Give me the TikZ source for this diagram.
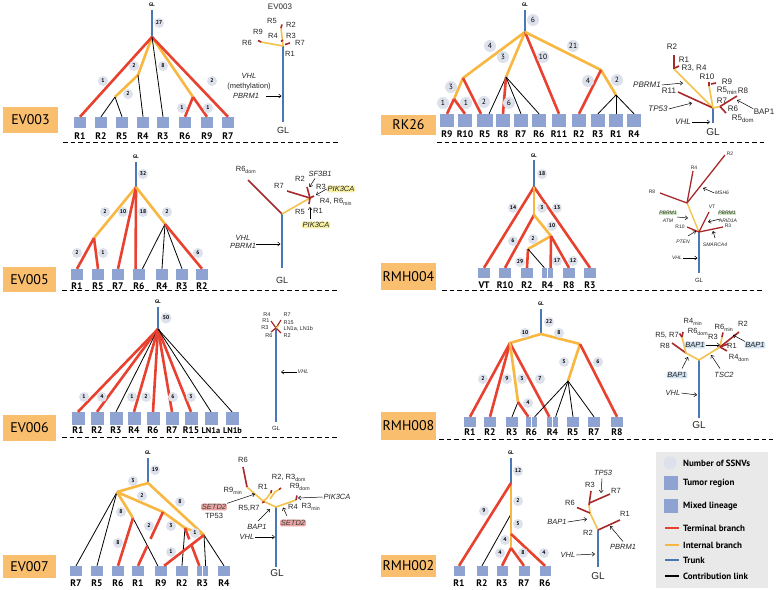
\documentclass[tikz,border=0pt]{standalone}
\usepackage{fontspec}
\setmainfont{Liberation Sans}
\newfontfamily\myr{PT Sans}
\usetikzlibrary{arrows.meta,calc}
\definecolor{tred}{HTML}{E8412F}
\definecolor{tyel}{HTML}{F7B740}
\definecolor{tblue}{HTML}{4A78B5}
\definecolor{bfill}{HTML}{8FA3D3}
\definecolor{cfill}{HTML}{DCE1EC}
\definecolor{ofill}{HTML}{F9BE6E}
\definecolor{pred}{HTML}{A8292B}
\definecolor{pyel}{HTML}{F2C24A}
\definecolor{hyel}{HTML}{F7F0A2}
\definecolor{hgreen}{HTML}{CDE8C0}
\definecolor{hblue}{HTML}{CFE0F0}
\definecolor{hred}{HTML}{E9A3A0}
\definecolor{lgrey}{HTML}{E9E9E9}
\newcommand{\mysb}[1]{\textsubscript{#1}}
\newcommand{\regbox}[6]{\node[reg,#6] (#1) at (#2,#3) {}; \node[rlab] (#1l) at (#2,#4) {#5};}
\newcommand{\mixbox}[7]{\node[reg,minimum width=#6pt,minimum height=#7pt] (#1L) at ({#2-#6/2-0.4},#3) {}; \node[reg,minimum width=#6pt,minimum height=#7pt] (#1R) at ({#2+#6/2+0.4},#3) {}; \node[rlab] (#1l) at (#2,#4) {#5};}
\tikzset{
 term/.style={tred,line width=2.6pt},
 intl/.style={tyel,line width=2.6pt},
 trk/.style={tblue,line width=2.6pt},
 ctb/.style={black,line width=0.8pt},
 cnt/.style={circle,fill=cfill,inner sep=0pt,minimum size=10pt,font=\myr\bfseries\fontsize{5.5}{6}\selectfont},
 cntb/.style={circle,fill=cfill,inner sep=0pt,minimum size=12pt,font=\myr\fontsize{7.5}{8}\selectfont},
 reg/.style={fill=bfill,inner sep=0pt,minimum width=12pt,minimum height=11pt},
 rlab/.style={font=\myr\bfseries\fontsize{9.5}{10}\selectfont,inner sep=0pt},
 panel/.style={fill=ofill,minimum width=55pt,inner sep=0pt,font=\myr\fontsize{14}{16}\selectfont},
 gl/.style={font=\myr\bfseries\fontsize{5}{6}\selectfont,inner sep=0pt},
 sep/.style={line width=0.8pt,dash pattern=on 4.5pt off 3pt},
 ptr/.style={tblue,line width=2pt},
 pb/.style={pred,line width=1.6pt},
 py/.style={pyel,line width=1.6pt},
 plab/.style={font=\fontsize{7.5}{8}\selectfont,inner sep=0.5pt,text=black!85},
 klab/.style={font=\fontsize{8}{8.5}\selectfont,inner sep=0.3pt,text=black!85},
 gene/.style={font=\itshape\fontsize{7.5}{8}\selectfont,inner sep=0.8pt,text=black!85},
 pgl/.style={font=\fontsize{10}{11}\selectfont,inner sep=0pt,text=black!85},
 arr/.style={-{Straight Barb[length=2.5pt,width=4pt]},line width=0.5pt},
 hl/.style={rounded corners=1.5pt},
 leg/.style={font=\myr\bfseries\fontsize{9}{10}\selectfont,anchor=west,inner sep=0pt},
 tiny/.style={font=\fontsize{5}{5.5}\selectfont,inner sep=0.5pt,text=black!85},
 tinyi/.style={font=\itshape\fontsize{5}{5.5}\selectfont,inner sep=0.5pt,text=black!85},
}
\begin{document}
\begin{tikzpicture}[x=1pt,y=-1pt,line join=round]
\useasboundingbox (0,0) rectangle (776,589);
\fill[white] (0,0) rectangle (776,589);

% ---------- separators ----------
\draw[sep] (63,142) -- (340,142);
\draw[sep] (62,290) -- (338,290);
\draw[sep] (62,437) -- (338,437);
\draw[sep] (437,142) -- (767,142);
\draw[sep] (442,290) -- (762,290);
\draw[sep] (439,439) -- (773,439);

% ---------- panel labels ----------
\node[panel,minimum height=26pt] (pA) at (30.5,120) {EV003};
\node[panel,minimum height=25pt,minimum width=53pt] (pC) at (29.5,279.5) {EV005};
\node[panel,minimum height=26pt,minimum width=53pt] (pE) at (29.5,428) {EV006};
\node[panel,minimum height=23pt,minimum width=53pt] (pG) at (29.5,566.5) {EV007};
\node[panel,minimum height=20pt] (pB) at (408.5,124.5) {RK26};
\node[panel,minimum height=27pt] (pD) at (408.5,276.5) {RMH004};
\node[panel,minimum height=28pt] (pF) at (408.5,426) {RMH008};
\node[panel,minimum height=22pt] (pH) at (408.5,566) {RMH002};

% =============== EV003 tree ===============
\node[gl] (aGL) at (152,5) {GL};
\coordinate (a0) at (152,10);
\coordinate (a1) at (152,37);
\coordinate (a2) at (138,75);
\coordinate (a3) at (115,97);
\coordinate (a4) at (193,97);
\regbox{aR1}{80}{122.5}{136}{R1}{}
\regbox{aR2}{101}{122.5}{136}{R2}{}
\regbox{aR5}{122}{122.5}{136}{R5}{}
\regbox{aR4}{143}{122.5}{136}{R4}{}
\regbox{aR3}{163}{122.5}{136}{R3}{}
\regbox{aR6}{185}{122.5}{136}{R6}{}
\regbox{aR9}{207}{122.5}{136}{R9}{}
\regbox{aR7}{228}{122.5}{136}{R7}{}
\draw[trk] (a0) -- (a1);
\draw[intl] (a1) -- (a2) -- (a3);
\draw[intl] (a1) -- (a4);
\draw[term] (a1) -- (aR1.north);
\draw[term] (a1) -- (aR7.north);
\draw[ctb] (a2) -- (aR4.north);
\draw[ctb] (a3) -- (aR2.north);
\draw[ctb] (a3) -- (aR5.north);
\draw[ctb] (a1) -- (aR3.north);
\draw[term] (a4) -- (aR6.north);
\draw[term] (a4) -- (aR9.north);
\node[cnt] at (159,23) {27};
\node[cnt] at (103,81) {1};
\node[cnt] at (134,66) {2};
\node[cnt] at (128,94) {2};
\node[cnt] at (163,66) {8};
\node[cnt] at (182,108) {1};
\node[cnt] at (208,108) {1};
\node[cnt] at (212,81) {2};

% =============== EV003 phylogeny ===============
\node[plab,font=\fontsize{8}{9}\selectfont] (bT) at (280,7) {EV003};
\coordinate (b0) at (283,122);
\coordinate (b1) at (283,46);
\coordinate (b2) at (281,28);
\coordinate (b3) at (261,42);
\draw[ptr] (b0) -- (b1);
\draw[py] (b1) -- (b2);
\draw[py] (b1) -- (b3);
\draw[pb] (b2) -- (282,24.5);
\draw[pb] (b3) -- (258,40.5);
\draw[pb] (285,44.5) -- (290,43);
\draw[pb] (281,41.5) -- (283,40);
\node[pgl,font=\fontsize{9}{10}\selectfont] (bGL) at (283,130) {GL};
\node[plab] at (272,21) {R5};
\node[plab] at (291,25) {R2};
\node[plab] at (258,32) {R9};
\node[plab] at (273,36) {R4};
\node[plab] at (291,36) {R3};
\node[plab] at (247,43) {R6};
\node[plab] at (300,43) {R7};
\node[plab] at (290,54) {R1};
\node[gene] (bV) at (249,76) {VHL};
\node[plab] (bM) at (249,86.5) {(methylation)};
\node[gene] (bP) at (246,96) {PBRM1};
\coordinate (bA) at (281.5,96);
\draw[arr] (266,96) -- (bA);

% =============== RK26 tree ===============
\node[gl] (cGL) at (525,5) {GL};
\coordinate (c0) at (525,10);
\coordinate (c1) at (525,32);
\coordinate (c2) at (463,78);
\coordinate (c3) at (454,99);
\coordinate (c4) at (506,77);
\coordinate (c5) at (601,70);
\coordinate (c6) at (616,95);
\regbox{cR9}{447}{120.5}{134}{R9}{minimum width=14pt,minimum height=13pt}
\regbox{cR10}{465}{120.5}{134}{R10}{minimum width=14pt,minimum height=13pt}
\mixbox{cR5}{485}{120.5}{134}{R5}{7.3}{13}
\regbox{cR8}{503}{120.5}{134}{R8}{minimum width=14pt,minimum height=13pt}
\regbox{cR7}{521}{120.5}{134}{R7}{minimum width=14pt,minimum height=13pt}
\regbox{cR6}{539}{120.5}{134}{R6}{minimum width=14pt,minimum height=13pt}
\regbox{cR11}{559}{120.5}{134}{R11}{minimum width=14pt,minimum height=13pt}
\regbox{cR2}{579}{120.5}{134}{R2}{minimum width=14pt,minimum height=13pt}
\regbox{cR3}{598}{120.5}{134}{R3}{minimum width=14pt,minimum height=13pt}
\regbox{cR1}{616}{120.5}{134}{R1}{minimum width=14pt,minimum height=13pt}
\regbox{cR4}{634}{120.5}{134}{R4}{minimum width=14pt,minimum height=13pt}
\draw[trk] (c0) -- (c1);
\draw[intl] (c1) -- (c2) -- (c3);
\draw[term] (c3) -- (cR9.north);
\draw[term] (c3) -- (cR10.north);
\draw[term] (c2) -- (cR5L.north);
\draw[intl] (c1) -- (c4);
\draw[ctb] (c4) -- (cR5R.north);
\draw[term] (c4) -- (cR8.north);
\draw[ctb] (c4) -- (cR7.north);
\draw[ctb] (c4) -- (cR6.north);
\draw[term] (c1) -- (cR11.north);
\draw[intl] (c1) -- (c5) -- (c6);
\draw[term] (c5) -- (cR2.north);
\draw[ctb] (c6) -- (cR3.north);
\draw[ctb] (c6) -- (cR1.north);
\draw[ctb] (c6) -- (cR4.north);
\node[cntb] at (533,20) {6};
\node[cntb] at (490,46) {4};
\node[cntb] at (451,87) {3};
\node[cntb] at (443,103) {1};
\node[cntb] at (466,103) {1};
\node[cntb] at (484,102) {2};
\node[cntb] at (503,57) {3};
\node[cntb] at (509,103) {6};
\node[cntb] at (543,57) {10};
\node[cntb] at (573,46) {21};
\node[cntb] at (588,81) {4};
\node[cntb] at (617,80) {2};

% =============== RK26 phylogeny ===============
\coordinate (n0) at (713,108);
\coordinate (nb) at (713,123);
\coordinate (n1) at (674,69);
\coordinate (n2) at (709,86);
\coordinate (n3) at (720,106.5);
\draw[ptr] (nb) -- (n0);
\draw[py] (n0) -- (n1);
\draw[pb] (n1) -- (674,55);
\draw[pb] (675,68) -- (679,66);
\draw[pb] (n0) -- (678,92);
\draw[py] (n0) -- (n2);
\draw[pb] (n2) -- (709,82);
\draw[pb] (711,84) -- (716,83);
\draw[py] (n0) -- (n3);
\draw[pb] (n3) -- (737,96);
\draw[pb] (n3) -- (726,113);
\node[pgl] (nGL) at (713,132) {GL};
\node[klab] at (672,47) {R2};
\node[klab] at (684,60) {R1};
\node[klab] at (694,68) {R3, R4};
\node[klab] at (707,76.5) {R10};
\node[klab] at (727,81.5) {R9};
\node[klab] at (727,91) {R5\mysb{min}};
\node[klab] at (743,91) {R8};
\node[klab] at (722,101) {R7};
\node[klab] at (733,108.5) {R6};
\node[klab] at (743,118.5) {R5\mysb{dom}};
\node[klab] at (669,91) {R11};
\node[gene,font=\itshape\fontsize{8}{9}\selectfont] (nP) at (647,85) {PBRM1};
\node[gene,font=\itshape\fontsize{8}{9}\selectfont] (nT) at (658,109) {TP53};
\node[gene,font=\itshape\fontsize{8}{9}\selectfont] (nV) at (683,122) {VHL};
\node[klab] (nB) at (764,112) {BAP1};
\draw[arr] (nP.east) -- (683,83);
\draw[arr] (nT.east) -- (692,103);
\draw[arr] (nV.east) -- (710,122);
\draw[arr] (nB.north west) -- (737,100);

% =============== EV005 tree ===============
\node[gl] (dGL) at (136,157) {GL};
\coordinate (d0) at (136,162);
\coordinate (d1) at (136,187);
\coordinate (d2) at (94,238);
\coordinate (d3) at (165,224);
\regbox{dR1}{77}{274.5}{286}{R1}{}
\regbox{dR5}{98}{274.5}{286}{R5}{}
\regbox{dR7}{118}{274.5}{286}{R7}{}
\mixbox{dR6}{139}{274.5}{286}{R6}{6}{11}
\regbox{dR4}{162}{274.5}{286}{R4}{}
\regbox{dR3}{182}{274.5}{286}{R3}{}
\regbox{dR2}{202}{274.5}{286}{R2}{}
\draw[trk] (d0) -- (d1);
\draw[intl] (d1) -- (d2);
\draw[term] (d2) -- (dR1.north);
\draw[term] (d2) -- (dR5.north);
\draw[term] (d1) -- (dR7.north);
\draw[term] (d1) -- (dR6L.north);
\draw[intl] (d1) -- (d3);
\draw[ctb] (d3) -- (dR6R.north);
\draw[ctb] (d3) -- (dR4.north);
\draw[ctb] (d3) -- (dR3.north);
\draw[term] (d3) -- (dR2.north);
\node[cnt] at (143,174) {32};
\node[cnt] at (105,212) {2};
\node[cnt] at (123,212) {10};
\node[cnt] at (143,212) {18};
\node[cnt] at (167,212) {2};
\node[cnt] at (77,253) {2};
\node[cnt] at (103,253) {1};
\node[cnt] at (198,253) {6};

% =============== EV005 phylogeny ===============
\coordinate (o0) at (282,214);
\coordinate (ob) at (282,268);
\coordinate (o1) at (310,198);
\draw[ptr] (ob) -- (o0);
\draw[pb] (o0) -- (248,180);
\draw[py] (o0) -- (o1);
\draw[pb] (o1) -- (287,191);
\draw[pb] (o1) -- (307,187);
\draw[pb] (o1) -- (309,204);
\draw[pb] (o1) -- (314,196);
\node[pgl,font=\fontsize{9}{10}\selectfont] (oGL) at (282,280) {GL};
\node[plab] at (246,170) {R6\mysb{dom}};
\node[plab] at (279,186) {R7};
\node[plab] at (300,179) {R2};
\node[plab] at (321,187) {R3};
\node[plab] at (336,202) {R4, R6\mysb{min}};
\node[plab] at (300,212) {R5};
\node[plab] at (318,211) {R1};
\node[gene] (oS) at (320,174) {SF3B1};
\node[gene,fill=hyel,hl] (oK1) at (341,189) {PIK3CA};
\node[gene,fill=hyel,hl] (oK2) at (316,225) {PIK3CA};
\node[gene] (oV) at (243,238) {VHL};
\node[gene] (oP) at (243,245.5) {PBRM1};
\draw[arr] (315,178.5) -- (309.5,187);
\draw[arr] (oK1.west) -- (316,195);
\draw[arr] (310,219) -- (310,207);
\draw[arr] (256,244) -- (280.5,244);

% =============== RMH004 tree ===============
\node[gl] (eGL) at (534,156) {GL};
\coordinate (e0) at (534,160);
\coordinate (e1) at (534,187);
\coordinate (e2) at (534,215);
\coordinate (e3) at (551,236);
\coordinate (e4) at (528,249);
\regbox{eVT}{484}{273}{285}{VT}{minimum height=10pt}
\regbox{eR10}{505}{273}{285}{R10}{minimum height=10pt}
\regbox{eR2}{527}{273}{285}{R2}{minimum height=10pt}
\mixbox{eR4}{547.5}{273}{285}{R4}{5.5}{10}
\regbox{eR8}{569}{273}{285}{R8}{minimum height=10pt}
\regbox{eR3}{590}{273}{285}{R3}{minimum height=10pt}
\draw[trk] (e0) -- (e1);
\draw[term] (e1) -- (eVT.north);
\draw[term] (e1) -- (eR3.north);
\draw[intl] (e1) -- (e2);
\draw[term] (e2) -- (eR10.north);
\draw[intl] (e2) -- (e3) -- (e4);
\draw[term] (e4) -- (eR2.north);
\draw[ctb] (e4) -- (eR4L.north);
\draw[term] (e3) -- (eR4R.north);
\draw[term] (e3) -- (eR8.north);
\node[cnt] at (542,174) {18};
\node[cnt] at (513,208) {14};
\node[cnt] at (542,208) {3};
\node[cnt] at (557,208) {13};
\node[cnt] at (552,226) {10};
\node[cnt] at (513,241) {6};
\node[cnt] at (533,239) {2};
\node[cnt] at (520,262) {29};
\node[cnt] at (557,261) {17};
\node[cnt] at (573,261) {12};

% =============== RMH004 phylogeny ===============
\coordinate (r0) at (699,232);
\coordinate (rb) at (699,273);
\coordinate (r1) at (687,203);
\draw[ptr,line width=1.8pt] (rb) -- (r0);
\draw[py,line width=1.3pt] (r0) -- (r1);
\draw[pb,line width=1.3pt] (r1) -- (660,193);
\draw[pb,line width=1.3pt] (r1) -- (693,171);
\draw[pb,line width=1.3pt] (r1) -- (725,155);
\draw[pb,line width=1.3pt] (r0) -- (709,212);
\draw[pb,line width=1.3pt] (r0) -- (723,227);
\draw[pb,line width=1.3pt] (r0) -- (687,227);
\node[tiny,font=\fontsize{6}{6.5}\selectfont] (rGL) at (699,280) {GL};
\node[tiny] at (652,192) {R8};
\node[tiny] at (694,168) {R4};
\node[tiny] at (730,154) {R2};
\node[tiny] at (712,207) {VT};
\node[tiny] at (728,226) {R3};
\node[tiny] at (680,227) {R10};
\node[tinyi] (rM) at (722,193) {MSH6};
\node[tinyi,fill=hgreen] (rP1) at (668,213) {PBRM1};
\node[tinyi] at (668,221) {ATM};
\node[tinyi,fill=hgreen] (rP2) at (727,213) {PBRM1};
\node[tinyi] at (728,221) {ARID1A};
\node[tinyi] at (683,242) {PTEN};
\node[tinyi] at (715,245) {SMARCA4};
\node[tinyi] (rV) at (677,258) {VHL};
\draw[arr] (rM.west) -- (703,188);
\draw[arr] (677,217) -- (688,218);
\draw[arr] (720,219) -- (708,222);
\draw[arr] (688,236) -- (696,231);
\draw[arr] (715,238) -- (713,231);
\draw[arr] (rV.east) -- (697.5,258);

% =============== EV006 tree ===============
\node[gl] (fGL) at (158,302) {GL};
\coordinate (f0) at (158,307);
\coordinate (f1) at (158,329);
\regbox{fR1}{78}{418.5}{430.5}{R1}{minimum width=13pt,minimum height=13pt}
\regbox{fR2}{97}{418.5}{430.5}{R2}{minimum width=13pt,minimum height=13pt}
\regbox{fR3}{116}{418.5}{430.5}{R3}{minimum width=13pt,minimum height=13pt}
\regbox{fR4}{134}{418.5}{430.5}{R4}{minimum width=13pt,minimum height=13pt}
\regbox{fR6}{153}{418.5}{430.5}{R6}{minimum width=13pt,minimum height=13pt}
\regbox{fR7}{172}{418.5}{430.5}{R7}{minimum width=13pt,minimum height=13pt}
\regbox{fR15}{191}{418.5}{430.5}{R15}{minimum width=13pt,minimum height=13pt}
\node[reg,minimum width=13pt,minimum height=13pt] (fLa) at (211,418.5) {};
\node[rlab,font=\myr\bfseries\fontsize{8.3}{9}\selectfont] (fLal) at (211,430.5) {LN1a};
\node[reg,minimum width=13pt,minimum height=13pt] (fLb) at (232,418.5) {};
\node[rlab,font=\myr\bfseries\fontsize{8.3}{9}\selectfont] (fLbl) at (232.5,430.5) {LN1b};
\draw[trk] (f0) -- (f1);
\draw[term] (f1) -- (fR1.north);
\draw[term] (f1) -- (fR2.north);
\draw[ctb] (f1) -- (fR3.north);
\draw[term] (f1) -- (fR4.north);
\draw[term] (f1) -- (fR6.north);
\draw[term] (f1) -- (fR7.north);
\draw[term] (f1) -- (fR15.north);
\draw[ctb] (f1) -- (fLa.north);
\draw[ctb] (f1) -- (fLb.north);
\node[cnt,minimum size=11pt] at (166,318) {50};
\node[cnt] at (84,397) {1};
\node[cnt] at (102,397) {4};
\node[cnt] at (132,397) {1};
\node[cnt] at (146,397) {2};
\node[cnt] at (173,397) {6};
\node[cnt] at (191,397) {3};

% =============== EV006 phylogeny ===============
\coordinate (s0) at (276,328);
\coordinate (sb) at (276,422);
\draw[ptr,line width=1.8pt] (sb) -- (s0);
\draw[pb,line width=1.2pt] (s0) -- (271,321);
\draw[pb,line width=1.2pt] (s0) -- (281,320);
\draw[pb,line width=1.2pt] (s0) -- (271,332);
\draw[pb,line width=1.2pt] (s0) -- (281,333);
\draw[py,line width=1.2pt] (s0) -- (279,325.5);
\node[tiny,font=\fontsize{6}{6.5}\selectfont] (sGL) at (276,428) {GL};
\node[tiny,font=\fontsize{5.5}{6}\selectfont] at (267,315) {R4};
\node[tiny,font=\fontsize{5.5}{6}\selectfont,anchor=west] at (283,315) {R7};
\node[tiny,font=\fontsize{5.5}{6}\selectfont] at (266,321) {R1};
\node[tiny,font=\fontsize{5.5}{6}\selectfont,anchor=west] at (283,322.5) {R15};
\node[tiny,font=\fontsize{5.5}{6}\selectfont] at (265,328) {R3};
\node[tiny,font=\fontsize{5.5}{6}\selectfont,anchor=west] at (283,328.5) {LN1a, LN1b};
\node[tiny,font=\fontsize{5.5}{6}\selectfont] at (269,336) {R6};
\node[tiny,font=\fontsize{5.5}{6}\selectfont,anchor=west] at (283,336) {R2};
\node[tinyi,font=\itshape\fontsize{5.5}{6}\selectfont,anchor=west] (sV) at (297,372) {VHL};
\draw[arr] (sV.west) -- (281,372);

% =============== RMH008 tree ===============
\node[gl] (gGL) at (541,304) {GL};
\coordinate (g0) at (541,309);
\coordinate (g1) at (541,334);
\coordinate (g2) at (510,343);
\coordinate (g3) at (580,344);
\coordinate (g4) at (518,402);
\coordinate (g5) at (568,381);
\regbox{gR1}{470}{422}{432}{R1}{minimum height=10pt}
\regbox{gR2}{490}{422}{432}{R2}{minimum height=10pt}
\regbox{gR3}{512}{422}{432}{R3}{minimum height=10pt}
\mixbox{gR6}{531.5}{422}{432}{R6}{5.5}{10}
\mixbox{gR4}{552.5}{422}{432}{R4}{5.5}{10}
\regbox{gR5}{573}{422}{432}{R5}{minimum height=10pt}
\regbox{gR7}{594}{422}{432}{R7}{minimum height=10pt}
\regbox{gR8}{617}{422}{432}{R8}{minimum height=10pt}
\draw[trk] (g0) -- (g1);
\draw[intl] (g2) -- (g1) -- (g3);
\draw[term] (g2) -- (gR1.north);
\draw[term] (g2) -- (gR2.north);
\draw[term] (g2) -- (gR4L.north);
\draw[intl] (g2) -- (g4);
\draw[ctb] (g4) -- (gR3.north);
\draw[term] (g4) -- (gR6L.north);
\draw[intl] (g3) -- (g5);
\draw[term] (g3) -- (gR8.north);
\draw[ctb] (g5) -- (gR6R.north);
\draw[ctb] (g5) -- (gR4R.north);
\draw[ctb] (g5) -- (gR5.north);
\draw[ctb] (g5) -- (gR7.north);
\node[cnt] at (549,322) {22};
\node[cnt] at (525,333) {10};
\node[cnt] at (559,333) {8};
\node[cnt] at (483,379) {2};
\node[cnt] at (507,379) {9};
\node[cnt] at (522,379) {3};
\node[cnt] at (540,379) {7};
\node[cnt] at (528,403) {4};
\node[cnt] at (564,362) {5};
\node[cnt] at (598,362) {6};

% =============== RMH008 phylogeny ===============
\coordinate (q0) at (699,360);
\coordinate (qb) at (699,418);
\coordinate (q1) at (686,353);
\coordinate (q2) at (720,347);
\coordinate (q3) at (682,337);
\coordinate (q4) at (722,337);
\draw[ptr] (qb) -- (q0);
\draw[py] (q1) -- (q0) -- (q2);
\draw[pb] (q1) -- (672,343);
\draw[py] (q1) -- (q3);
\draw[pb] (q3) -- (683,332);
\draw[pb] (q3) -- (679.5,333.5);
\draw[py] (q2) -- (q4);
\draw[pb] (q4) -- (723,332.5);
\draw[pb] (q2) -- (739,332);
\draw[pb] (q2) -- (728,344);
\draw[pb] (q2) -- (727,351);
\node[pgl] (qGL) at (699,425) {GL};
\node[plab] at (693,322) {R4\mysb{min}};
\node[plab] at (698,332) {R6\mysb{dom}};
\node[plab] at (667,335) {R5, R7};
\node[plab] at (665,346) {R8};
\node[plab] at (724,328) {R6\mysb{min}};
\node[plab] at (743,324) {R2};
\node[plab] at (713,337) {R3};
\node[plab] at (732,346) {R1};
\node[plab] at (739,358) {R4\mysb{dom}};
\node[gene,fill=hblue,hl] (qB1) at (695,345) {BAP1};
\node[gene,fill=hblue,hl] (qB2) at (755,345) {BAP1};
\node[gene,fill=hblue,hl] (qB3) at (677,375) {BAP1};
\node[gene] (qT) at (724,375) {TSC2};
\node[gene] (qV) at (673,393) {VHL};
\draw[arr] (qB1.east) -- (720,345);
\draw[arr] (745,341.5) -- (733,335);
\draw[arr] (682,368.5) -- (688,357);
\draw[arr] (720,368.5) -- (711,355);
\draw[arr] (qV.east) -- (697,395);

% =============== EV007 tree ===============
\node[gl] (hGL) at (148,453) {GL};
\coordinate (h0) at (148,458);
\coordinate (h1) at (148,483);
\coordinate (h2) at (117,492);
\coordinate (h3) at (204,535);
\coordinate (h4) at (133,518);
\coordinate (h5) at (163,512);
\coordinate (h6) at (185,528);
\regbox{hR7}{76}{571}{583}{R7}{minimum height=10pt}
\regbox{hR5}{97}{571}{583}{R5}{minimum height=10pt}
\regbox{hR6}{118}{571}{583}{R6}{minimum height=10pt}
\regbox{hR1}{138}{571}{583}{R1}{minimum height=10pt}
\mixbox{hR9}{161}{571}{583}{R9}{5.5}{10}
\regbox{hR2}{182}{571}{583}{R2}{minimum height=10pt}
\mixbox{hR3}{202.5}{571}{583}{R3}{5.5}{10}
\regbox{hR4}{224}{571}{583}{R4}{minimum height=10pt}
\draw[trk] (h0) -- (h1);
\draw[ctb] (h2) -- (hR7.north);
\draw[ctb] (h2) -- (hR5.north);
\draw[ctb] (h4) -- (hR9L.north);
\draw[ctb] (h6) -- (hR2.north);
\draw[ctb] (h3) -- (hR3R.north);
\draw[ctb] (h3) -- (hR4.north);
\draw[intl] (h2) -- (h1) -- (h3);
\draw[intl] (h2) -- (h4);
\draw[intl] (h2) -- (h5) -- (h6) -- (h3);
\draw[term] (h4) -- (hR6.north);
\draw[term] (h5) -- ($(h5)!0.5!(hR1.north)$);
\draw[term] ($(h5)!0.63!(hR1.north)$) -- (hR1.north);
\draw[term] (h3) -- (hR9R.north);
\draw[term] (h6) -- ($(h6)!0.3!(hR3L.north)$);
\draw[term] ($(h6)!0.46!(hR3L.north)$) -- (hR3L.north);
\node[cnt] at (155,470) {19};
\node[cnt] at (133,481) {3};
\node[cnt] at (180,502) {8};
\node[cnt] at (142,496) {2};
\node[cnt] at (121,512) {8};
\node[cnt] at (118,543) {8};
\node[cnt] at (149,526) {2};
\node[cnt] at (171,526) {3};
\node[cnt] at (195,533) {1};
\node[cnt] at (171,552) {1};

% =============== EV007 phylogeny ===============
\coordinate (k0) at (276,507);
\coordinate (kb) at (276,567);
\coordinate (k1) at (263,501);
\coordinate (k2) at (247,487);
\coordinate (k3) at (296,500);
\coordinate (k4) at (270,499);
\draw[ptr] (kb) -- (k0);
\draw[py] (k0) -- (k1) -- (k2);
\draw[pb] (k2) -- (243,467);
\draw[py] (k1) -- (266,499) -- (271,492.5);
\draw[pb] (271,493) -- (271.5,490);
\draw[pb] (262,502.5) -- (264.5,502);
\draw[py] (k0) -- (k3);
\draw[pb] (k3) -- (297,495.5);
\draw[py] (k4) -- (275,492) -- (279,489.5);
\draw[pb] (279,489.5) -- (281,488);
\node[pgl] (kGL) at (277,573) {GL};
\node[plab] at (243,460) {R6};
\node[plab] at (263,487) {R1};
\node[plab] at (233,491) {R9\mysb{min}};
\node[plab] at (289,478) {R2, R3\mysb{dom}};
\node[plab] at (300,487) {R9\mysb{dom}};
\node[plab] at (293,507) {R4};
\node[plab] at (311,507) {R3\mysb{min}};
\node[plab] at (249,508) {R5,R7};
\node[gene,fill=hred,hl,text=black!75] (kS1) at (214,507) {SETD2};
\node[plab] at (214,515.5) {TP53};
\node[gene] (kP) at (337,497) {PIK3CA};
\node[gene] (kB) at (257,527) {BAP1};
\node[gene,fill=hred,hl,text=black!75] (kS2) at (293,523) {SETD2};
\node[gene] (kV) at (247,537) {VHL};
\draw[arr] (kS1.north east) -- (255,494);
\draw[arr] (kP.west) -- (298,498);
\draw[arr] (258,521) -- (270,509);
\draw[arr] (287,516) -- (283,507.5);
\draw[arr] (kV.east) -- (275,537);

% =============== RMH002 tree ===============
\node[gl] (mGL) at (511,453) {GL};
\coordinate (m0) at (511,458);
\coordinate (m1) at (511,483);
\coordinate (m2) at (511,514);
\coordinate (m3) at (511,534);
\coordinate (m4) at (511,548);
\regbox{mR1}{459}{571}{583}{R1}{minimum width=11pt,minimum height=10pt}
\regbox{mR2}{482}{571}{583}{R2}{minimum width=11pt,minimum height=10pt}
\regbox{mR3}{502}{571}{583}{R3}{minimum width=11pt,minimum height=10pt}
\regbox{mR7}{524}{571}{583}{R7}{minimum width=11pt,minimum height=10pt}
\regbox{mR6}{545}{571}{583}{R6}{minimum width=11pt,minimum height=10pt}
\draw[trk] (m0) -- (m1);
\draw[ctb] (m2) -- (mR2.north);
\draw[intl] (m1) -- (m4);
\draw[term] (m1) -- (mR1.north);
\draw[term] (m3) -- (mR6.north);
\draw[term] (m4) -- (mR3.north);
\draw[term] (m4) -- (mR7.north);
\node[cnt] at (518,471) {12};
\node[cnt] at (518,501) {2};
\node[cnt] at (518,524) {5};
\node[cnt] at (505,540) {4};
\node[cnt] at (484,511) {9};
\node[cnt] at (500,553) {4};
\node[cnt] at (523,553) {8};
\node[cnt] at (544,553) {4};

% =============== RMH002 phylogeny ===============
\coordinate (t0) at (598,530);
\coordinate (tb) at (598,567);
\coordinate (t1) at (590,513);
\coordinate (t2) at (589,505);
\draw[ptr] (tb) -- (t0);
\draw[py] (t0) -- (t1) -- (t2);
\draw[pb] (t1) -- (577,507.5);
\draw[pb] (t2) -- (591,491);
\draw[pb] (589.5,503) -- (610,494);
\draw[pb] (t0) -- (620,520);
\node[pgl] (tGL) at (598,576) {GL};
\node[plab] at (570,503) {R6};
\node[plab] at (590,485) {R3};
\node[plab] at (616,491) {R7};
\node[plab] at (625,514) {R1};
\node[plab] at (588,533) {R2};
\node[gene] (tT) at (603,473) {TP53};
\node[gene] (tB) at (557,522) {BAP1};
\node[gene] (tP) at (623,547) {PBRM1};
\node[gene] (tV) at (568,555) {VHL};
\draw[arr] (602,478.5) -- (601,493);
\draw[arr] (tB.east) -- (587,519);
\draw[arr] (623,541.5) -- (610,526);
\draw[arr] (tV.east) -- (595,554);

% =============== Legend ===============
\fill[lgrey] (656,452) rectangle (768,588);
\node[circle,fill=cfill,minimum size=13pt,inner sep=0pt] (L1) at (670,463) {};
\node[leg] at (683,463) {Number of SSNVs};
\node[reg,minimum width=14pt,minimum height=14pt] (L2) at (671,483) {};
\node[leg] at (683,483) {Tumor region};
\node[reg,minimum width=6.6pt,minimum height=14pt] (L3a) at (667.5,506) {};
\node[reg,minimum width=6.6pt,minimum height=14pt] (L3b) at (674.5,506) {};
\node[leg] at (683,506) {Mixed lineage};
\coordinate (L4a) at (665,528); \coordinate (L4b) at (679,528);
\draw[term] (L4a) -- (L4b);
\node[leg] at (683,528) {Terminal branch};
\coordinate (L5a) at (665,545); \coordinate (L5b) at (679,545);
\draw[intl] (L5a) -- (L5b);
\node[leg] at (683,545) {Internal branch};
\coordinate (L6a) at (665,560); \coordinate (L6b) at (679,560);
\draw[trk] (L6a) -- (L6b);
\node[leg] at (683,560) {Trunk};
\coordinate (L7a) at (665,576); \coordinate (L7b) at (679,576);
\draw[black,line width=2.2pt] (L7a) -- (L7b);
\node[leg] at (683,576) {Contribution link};
\end{tikzpicture}
\end{document}
